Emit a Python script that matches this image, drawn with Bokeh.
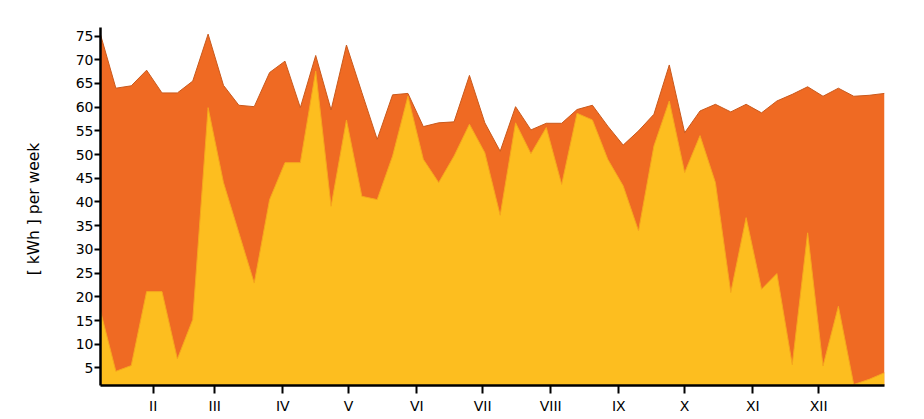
from bokeh.plotting import figure
from bokeh.models import FixedTicker, Range1d
from bokeh.embed import file_html
from bokeh.resources import INLINE

# week number (1..52) -> day of year = 7 * week
weeks = list(range(1, 53))
total_kwh = [75.3, 64.0, 64.5, 67.8, 63.0, 63.0, 65.5, 75.4, 64.6, 60.4, 60.1, 67.3, 69.7,
             59.9, 70.9, 59.4, 73.1, 63.1, 53.2, 62.6, 62.9, 55.9, 56.7, 56.9, 66.7, 56.7,
             50.7, 60.1, 55.2, 56.6, 56.6, 59.5, 60.4, 56.0, 52.0, 55.0, 58.5, 68.9, 54.6,
             59.2, 60.6, 59.0, 60.6, 58.8, 61.3, 62.7, 64.3, 62.3, 64.0, 62.3, 62.5, 62.9]
part_kwh = [17.0, 4.3, 5.5, 21.1, 21.1, 6.9, 15.2, 59.9, 44.1, 33.5, 22.9, 40.5, 48.3,
            48.3, 67.6, 39.1, 57.3, 41.2, 40.5, 49.7, 62.3, 49.0, 44.1, 49.7, 56.4, 50.4,
            37.2, 56.7, 50.2, 55.7, 43.7, 58.7, 57.3, 49.0, 43.4, 33.9, 51.8, 61.3, 46.2,
            54.0, 44.1, 20.9, 36.7, 21.6, 24.9, 5.7, 33.5, 5.4, 18.0, 1.5, 2.6, 4.0]
month_start_days = [31, 59, 90, 120, 151, 181, 212, 243, 273, 304, 334]
month_labels = ["II", "III", "IV", "V", "VI", "VII", "VIII", "IX", "X", "XI", "XII"]
y_ticks = [5, 10, 15, 20, 25, 30, 35, 40, 45, 50, 55, 60, 65, 70, 75]

days = [7 * w for w in weeks]

p = figure(width=904, height=416, output_backend="svg", toolbar_location=None,
           x_range=Range1d(days[0], days[-1]), y_range=Range1d(1.3, 76.8),
           min_border_left=100, min_border_right=20, min_border_top=27, min_border_bottom=30)
p.outline_line_color = None
p.xgrid.visible = False
p.ygrid.visible = False
p.background_fill_color = "white"
p.border_fill_color = "white"

base = [0] * len(days)
p.varea(x=days, y1=base, y2=total_kwh, fill_color="#EF6A23")
p.line(days, total_kwh, line_color="#C9591C", line_width=1)
p.varea(x=days, y1=base, y2=part_kwh, fill_color="#FDBE1F")
p.line(days, part_kwh, line_color="#F5A61F", line_width=1)

font = "DejaVu Sans"
p.yaxis.ticker = FixedTicker(ticks=y_ticks)
p.yaxis.axis_label = "[ kWh ]  per week"
p.yaxis.axis_label_text_font = font
p.yaxis.axis_label_text_font_style = "normal"
p.yaxis.axis_label_text_font_size = "15.5px"
p.yaxis.axis_label_standoff = 30
p.yaxis.major_label_text_font = font
p.yaxis.major_label_text_font_size = "14px"
p.yaxis.major_label_standoff = 1
p.yaxis.major_tick_out = 6
p.yaxis.major_tick_in = 0
p.yaxis.minor_tick_out = 0
p.yaxis.minor_tick_in = 0

p.xaxis.ticker = FixedTicker(ticks=month_start_days)
p.xaxis.major_label_overrides = {d: l for d, l in zip(month_start_days, month_labels)}
p.xaxis.major_label_text_font = font
p.xaxis.major_label_text_font_size = "14px"
p.xaxis.major_label_standoff = 4
p.xaxis.major_tick_out = 8
p.xaxis.major_tick_in = 0
p.xaxis.minor_tick_out = 0
p.xaxis.minor_tick_in = 0

for ax in (p.xaxis, p.yaxis):
    ax.axis_line_color = "black"
    ax.axis_line_width = 2.5
    ax.major_tick_line_color = "black"
    ax.major_tick_line_width = 2
    ax.major_label_text_color = "black"
    ax.axis_label_text_color = "black"

open("out.html", "w").write(file_html(p, INLINE))
